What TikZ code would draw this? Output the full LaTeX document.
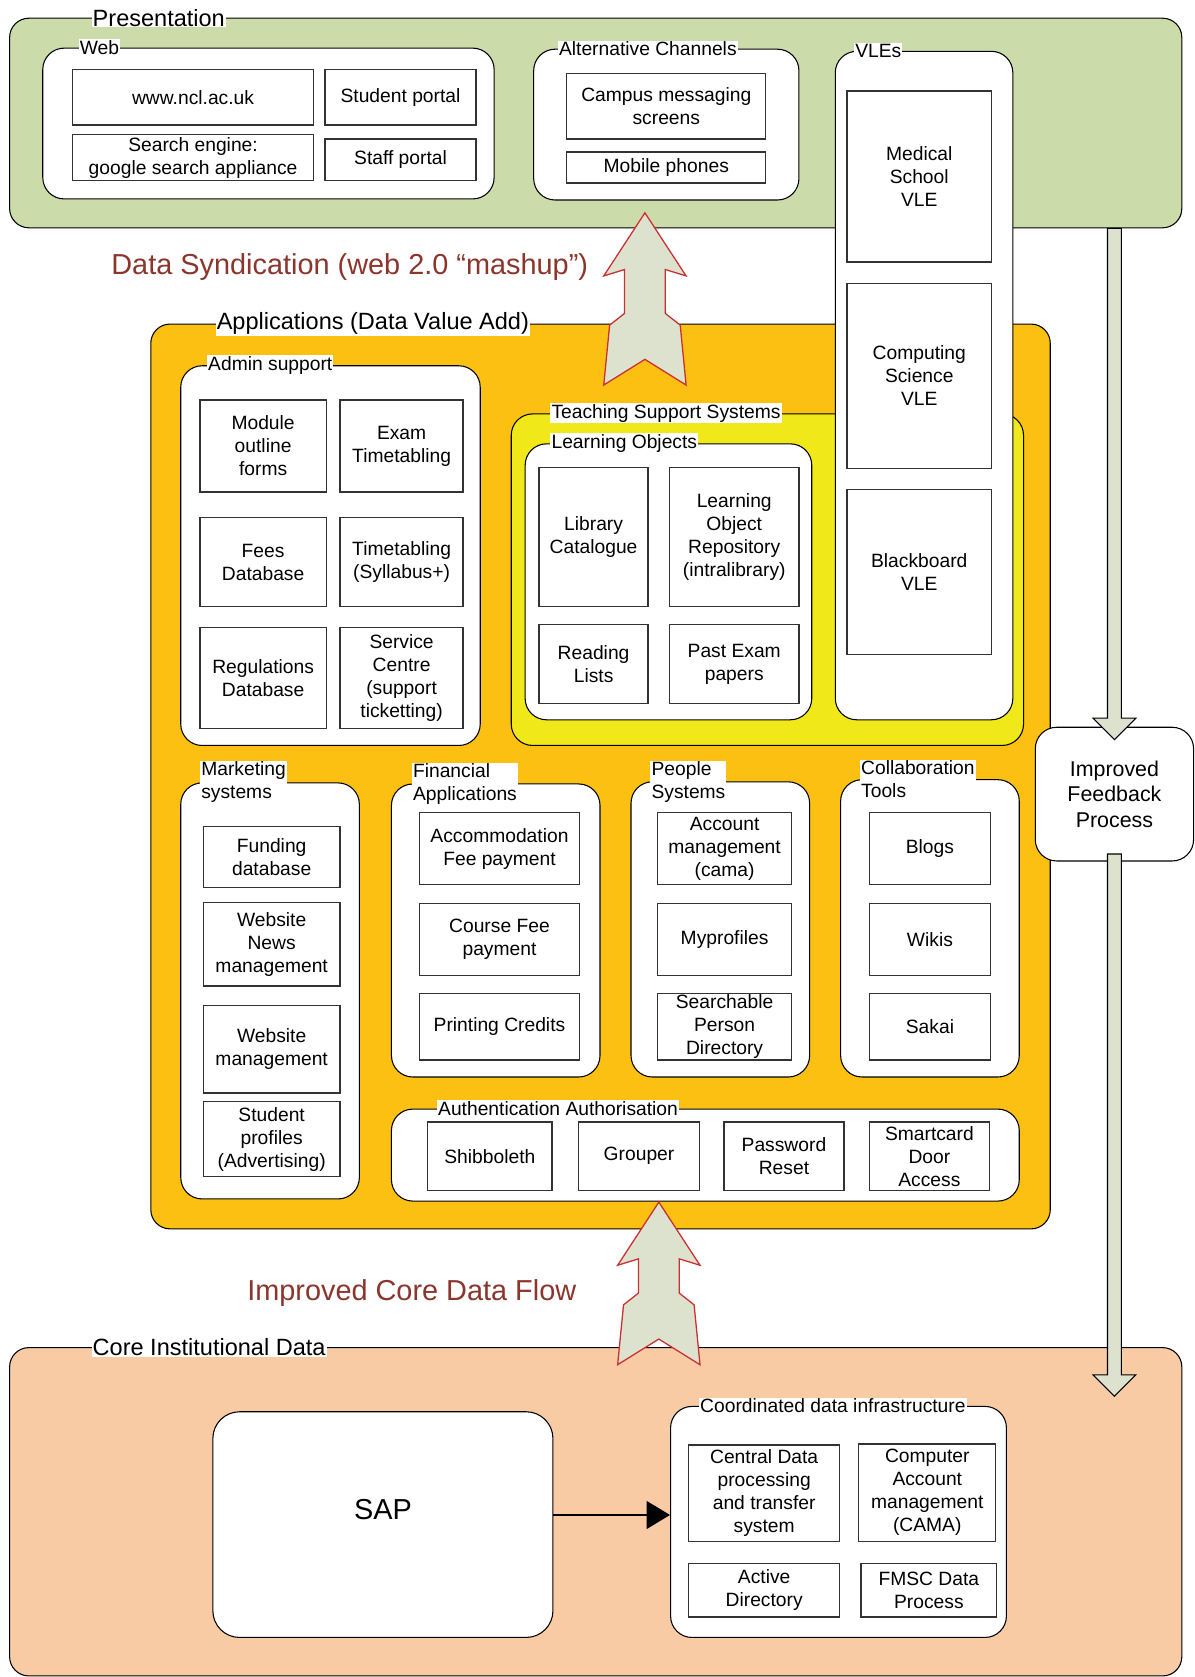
\documentclass[tikz,border=0pt]{standalone}
\usepackage{fontspec}
\setmainfont{Liberation Sans}
\usetikzlibrary{positioning,calc,arrows.meta}

\definecolor{presgreen}{HTML}{CBDBAA}
\definecolor{appsorange}{HTML}{FBC012}
\definecolor{tssyellow}{HTML}{F1E81A}
\definecolor{corepeach}{HTML}{F8CBA5}
\definecolor{flowfill}{HTML}{DDE2CF}
\definecolor{flowred}{HTML}{CC2F2F}
\definecolor{flowtext}{HTML}{8B352D}
\definecolor{itemedge}{HTML}{333333}

\newcommand{\boxfont}{\fontsize{18pt}{21.5pt}\selectfont}
\newcommand{\headfont}{\fontsize{22pt}{26pt}\selectfont}
\newcommand{\flowfont}{\fontsize{27pt}{32pt}\selectfont}
\newcommand{\feedfont}{\fontsize{20pt}{24pt}\selectfont}

\tikzset{
	corners/.style args={#1,#2,#3,#4}{at={({(#1+#3)/2},{(#2+#4)/2})}, minimum width={#3pt-#1pt}, minimum height={#4pt-#2pt}},
	panel/.style={draw=black, line width=1pt, rounded corners=18pt, inner sep=0pt},
	group/.style={draw=black, fill=white, line width=1pt, rounded corners=20pt, inner sep=0pt},
	item/.style={draw=itemedge, fill=white, line width=1.2pt, inner sep=0pt, align=center, font=\boxfont},
	tag/.style={fill=white, inner sep=1pt, font=\boxfont, align=left},
	bigtag/.style={fill=white, inner sep=1pt, font=\headfont},
	flowcap/.style={text=flowtext, font=\flowfont},
	flow/.style={draw=flowred, fill=flowfill, line width=1.2pt},
	feed/.style={draw=black, fill=flowfill, line width=1pt},
}

\newcommand{\flowarrow}[2]{%
	\draw[flow, shift={(#1)}] (0,0) -- (38.5,59) -- (19,53) -- (19,#2-67) -- (33,#2-56) -- (38.5,#2) -- (0,#2-24)
		-- (-38.5,#2) -- (-33,#2-56) -- (-19,#2-67) -- (-19,53) -- (-38.5,59) -- cycle;}
\newcommand{\feedarrow}[2]{%
	\draw[feed] ($(#1)+(-6.5,0)$) -- ($(#2)+(-6.5,-20)$) -- ($(#2)+(-20,-20)$) -- (#2)
		-- ($(#2)+(20,-20)$) -- ($(#2)+(6.5,-20)$) -- ($(#1)+(6.5,0)$) -- cycle;}

\begin{document}
\begin{tikzpicture}[x=1pt,y=-1pt]
	\useasboundingbox (0,0) rectangle (1117,1568);

	\node[panel, fill=presgreen, corners={9,17,1105,213}] (pres) {};
	\node[bigtag, right=77pt of pres.north west] (prestag) {Presentation};

	\node[group, corners={40,45,462,186}] (web) {};
	\node[tag, right=34pt of web.north west] (webtag) {Web};
	\node[item, corners={68,65,293,117}] (ncl) {www.ncl.ac.uk};
	\node[item, corners={304,65,445,117}] (stuportal) {Student portal};
	\node[item, corners={68,126,293,169}] (gsa) {Search engine:\\google search appliance};
	\node[item, corners={304,130,445,169}] (staffportal) {Staff portal};

	\node[group, corners={499,46,747,187}] (alt) {};
	\node[tag, right=23pt of alt.north west] (alttag) {Alternative Channels};
	\node[item, corners={530,69,716,130}] (campus) {Campus messaging\\screens};
	\node[item, corners={530,142,716,171}] (mobile) {Mobile phones};

	\node[panel, fill=appsorange, corners={141,303,982,1149}] (apps) {};
	\node[bigtag, right=61pt of apps.north west] (appstag) {Applications (Data Value Add)};

	\node[group, corners={169,342,449,697}] (admin) {};
	\node[tag, right=25pt of admin.north west] (admintag) {Admin support};
	\node[item, corners={187,374,305,460}] (module) {Module\\outline\\forms};
	\node[item, corners={318,374,433,460}] (exam) {Exam\\Timetabling};
	\node[item, corners={187,484,305,567}] (fees) {Fees\\Database};
	\node[item, corners={318,484,433,567}] (syllabus) {Timetabling\\(Syllabus+)};
	\node[item, corners={187,587,305,681}] (regs) {Regulations\\Database};
	\node[item, corners={318,587,433,681}] (service) {Service\\Centre\\(support\\ticketting)};

	\node[group, fill=tssyellow, corners={478,387,957,697}] (tss) {};
	\node[tag, right=37pt of tss.north west] (tsstag) {Teaching Support Systems};
	\node[group, corners={491,415,759,673}] (lo) {};
	\node[tag, right=24pt of lo.north west] (lotag) {Learning Objects};
	\node[item, corners={504,437,606,567}] (libcat) {Library\\Catalogue};
	\node[item, corners={626,437,747,567}] (lor) {Learning\\Object\\Repository\\(intralibrary)};
	\node[item, corners={504,584,606,658}] (reading) {Reading\\Lists};
	\node[item, corners={626,584,747,658}] (pastexam) {Past Exam\\papers};

	\node[group, corners={781,48,947,673}] (vle) {};
	\node[tag, right=18pt of vle.north west] (vletag) {VLEs};
	\node[item, corners={792,85,927,245}] (medvle) {Medical\\School\\VLE};
	\node[item, corners={792,265,927,438}] (csvle) {Computing\\Science\\VLE};
	\node[item, corners={792,458,927,612}] (bbvle) {Blackboard\\VLE};

	\node[group, corners={169,732,336,1121}] (mkt) {};
	\node[tag, anchor=north west] (mkttag) at (187,711) {Marketing\\systems};
	\node[item, corners={190,773,318,830}] (funding) {Funding\\database};
	\node[item, corners={190,844,318,922}] (news) {Website\\News\\management};
	\node[item, corners={190,940,318,1022}] (webmgmt) {Website\\management};
	\node[item, corners={190,1030,318,1100}] (profiles) {Student\\profiles\\(Advertising)};

	\node[group, corners={366,733,561,1007}] (fin) {};
	\node[tag, anchor=north west] (fintag) at (385,713) {Financial\\Applications};
	\node[item, corners={392,760,542,827}] (accom) {Accommodation\\Fee payment};
	\node[item, corners={392,845,542,912}] (coursefee) {Course Fee\\payment};
	\node[item, corners={392,929,542,991}] (printing) {Printing Credits};

	\node[group, corners={590,731,757,1007}] (people) {};
	\node[tag, anchor=north west] (peopletag) at (608,711) {People\\Systems};
	\node[item, corners={615,760,740,827}] (cama) {Account\\management\\(cama)};
	\node[item, corners={615,845,740,912}] (myprof) {Myprofiles};
	\node[item, corners={615,929,740,991}] (spd) {Searchable\\Person\\Directory};

	\node[group, corners={786,729,953,1007}] (collab) {};
	\node[tag, anchor=north west] (collabtag) at (804,710) {Collaboration\\Tools};
	\node[item, corners={813,760,926,827}] (blogs) {Blogs};
	\node[item, corners={813,845,926,912}] (wikis) {Wikis};
	\node[item, corners={813,929,926,991}] (sakai) {Sakai};

	\node[group, corners={366,1037,953,1123}] (auth) {};
	\node[tag, right=43pt of auth.north west] (authtag) {Authentication Authorisation};
	\node[item, corners={400,1049,516,1113}] (shib) {Shibboleth};
	\node[item, corners={541,1049,654,1113}] (grouper) {Grouper};
	\node[item, corners={677,1049,789,1113}] (pwreset) {Password\\Reset};
	\node[item, corners={813,1049,925,1113}] (smartcard) {Smartcard\\Door\\Access};

	\node[panel, fill=corepeach, corners={9,1260,1105,1567}] (core) {};
	\node[bigtag, right=77pt of core.north west] (coretag) {Core Institutional Data};

	\node[group, rounded corners=25pt, corners={199,1320,517,1531}] (sap) {};
	\node[font=\flowfont] (saptext) at ([yshift=14pt]sap.center) {SAP};
	\node[group, corners={627,1315,941,1531}] (cdi) {};
	\node[tag, right=27pt of cdi.north west] (cditag) {Coordinated data infrastructure};
	\node[item, corners={644,1351,785,1441}] (cdp) {Central Data\\processing\\and transfer\\system};
	\node[item, corners={803,1350,931,1441}] (camabox) {Computer\\Account\\management\\(CAMA)};
	\node[item, corners={644,1462,785,1512}] (ad) {Active\\Directory};
	\node[item, corners={805,1462,932,1512}] (fmsc) {FMSC Data\\Process};
	\draw[-{Triangle[length=22pt,width=26pt]}, line width=2pt] ([yshift=9pt]sap.east) -- ([yshift=9pt]sap.east -| cdi.west);

	\node[group, align=center, font=\feedfont, corners={968,680,1116,805}] (fb) {Improved\\Feedback\\Process};

	\coordinate (synctip) at (603,199);
	\coordinate (coretip) at (616,1124);
	\flowarrow{synctip}{161}
	\flowarrow{coretip}{152}

	\coordinate (fbtop) at (pres.south -| fb.center);
	\coordinate (fbin) at ([yshift=-12pt]fb.north);
	\coordinate (fbout) at ([yshift=7pt]fb.south);
	\coordinate (corein) at ([yshift=-46pt]core.north -| fb.center);
	\feedarrow{fbtop}{fbin}
	\feedarrow{fbout}{corein}

	\node[flowcap] (synccap) at (327,250) {Data Syndication (web 2.0 “mashup”)};
	\node[flowcap] (corecap) at (385,1209) {Improved Core Data Flow};
\end{tikzpicture}
\end{document}
